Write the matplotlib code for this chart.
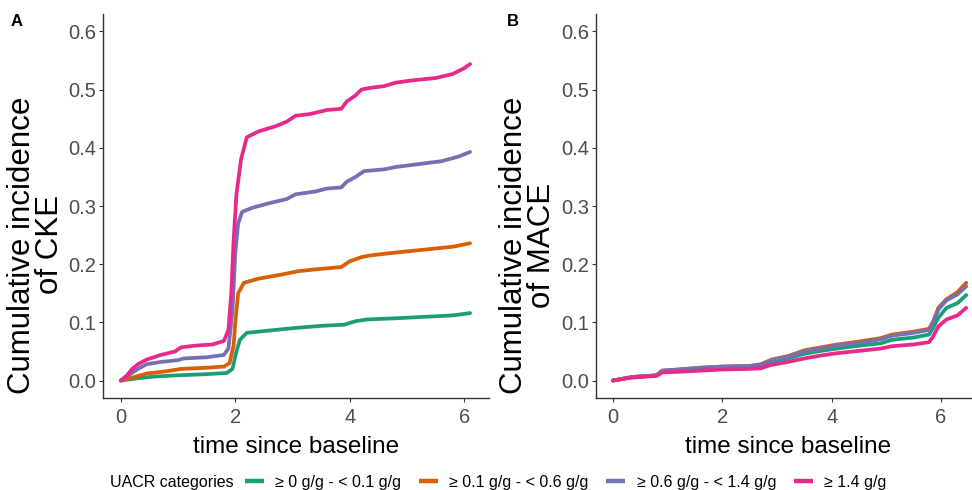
import matplotlib
matplotlib.use("Agg")
import matplotlib.pyplot as plt
from matplotlib.lines import Line2D

plt.rcParams['font.family'] = ['Liberation Sans', 'DejaVu Sans']

# colours (Dark2) and legend labels
colores = ['#1B9E77', '#D95F02', '#7570B3', '#E7298A']
etiquetas = ['≥ 0 g/g - < 0.1 g/g', '≥ 0.1 g/g - < 0.6 g/g',
             '≥ 0.6 g/g - < 1.4 g/g', '≥ 1.4 g/g']

# Panel A: CKE
t_cke_verde = [0, 0.3, 0.6, 1.0, 1.5, 1.85, 1.95, 2.02, 2.08, 2.2, 2.5, 3.0, 3.5, 3.9, 4.1, 4.3, 4.8, 5.4, 5.8, 6.1]
y_cke_verde = [0, 0.004, 0.007, 0.009, 0.011, 0.013, 0.02, 0.05, 0.07, 0.082, 0.085, 0.09, 0.094, 0.096, 0.102, 0.105, 0.107, 0.11, 0.112, 0.116]

t_cke_naranja = [0, 0.2, 0.45, 0.8, 1.05, 1.5, 1.8, 1.9, 1.97, 2.0, 2.05, 2.15, 2.4, 2.8, 3.1, 3.5, 3.85, 4.0, 4.2, 4.35, 4.8, 5.3, 5.8, 6.1]
y_cke_naranja = [0, 0.005, 0.012, 0.016, 0.02, 0.022, 0.024, 0.03, 0.06, 0.1, 0.15, 0.168, 0.175, 0.182, 0.188, 0.192, 0.195, 0.205, 0.212, 0.215, 0.22, 0.225, 0.23, 0.236]

t_cke_morado = [0, 0.15, 0.3, 0.45, 0.7, 1.0, 1.1, 1.5, 1.8, 1.88, 1.95, 2.0, 2.05, 2.12, 2.3, 2.6, 2.9, 3.05, 3.4, 3.6, 3.85, 3.95, 4.1, 4.25, 4.6, 4.8, 5.2, 5.6, 5.9, 6.1]
y_cke_morado = [0, 0.01, 0.02, 0.028, 0.032, 0.035, 0.038, 0.04, 0.044, 0.055, 0.12, 0.22, 0.27, 0.29, 0.297, 0.305, 0.312, 0.32, 0.325, 0.33, 0.332, 0.342, 0.35, 0.36, 0.363, 0.367, 0.372, 0.377, 0.385, 0.393]

t_cke_rosa = [0, 0.1, 0.2, 0.3, 0.45, 0.7, 0.95, 1.05, 1.3, 1.6, 1.8, 1.88, 1.93, 1.97, 2.02, 2.1, 2.2, 2.4, 2.7, 2.9, 3.05, 3.3, 3.6, 3.85, 3.95, 4.1, 4.2, 4.35, 4.6, 4.8, 5.1, 5.5, 5.8, 6.0, 6.1]
y_cke_rosa = [0, 0.008, 0.02, 0.028, 0.036, 0.044, 0.05, 0.057, 0.06, 0.062, 0.068, 0.087, 0.15, 0.24, 0.32, 0.38, 0.418, 0.428, 0.437, 0.445, 0.455, 0.458, 0.465, 0.467, 0.48, 0.49, 0.5, 0.503, 0.506, 0.512, 0.516, 0.52, 0.527, 0.537, 0.544]

# Panel B: MACE
t_mace = [0, 0.35, 0.8, 0.9, 1.2, 1.6, 2.0, 2.5, 2.7, 2.9, 3.2, 3.5, 3.8, 4.1, 4.5, 4.9, 5.1, 5.5, 5.78, 5.85, 5.95, 6.1, 6.3, 6.46]
y_mace_verde = [0, 0.006, 0.009, 0.016, 0.018, 0.02, 0.022, 0.023, 0.025, 0.032, 0.038, 0.046, 0.051, 0.055, 0.06, 0.064, 0.07, 0.074, 0.079, 0.09, 0.108, 0.125, 0.133, 0.147]
y_mace_naranja = [0, 0.006, 0.009, 0.017, 0.019, 0.022, 0.024, 0.025, 0.028, 0.036, 0.042, 0.052, 0.057, 0.062, 0.067, 0.073, 0.079, 0.084, 0.089, 0.1, 0.125, 0.14, 0.152, 0.168]
y_mace_morado = [0, 0.006, 0.009, 0.017, 0.019, 0.022, 0.024, 0.025, 0.027, 0.035, 0.041, 0.05, 0.055, 0.06, 0.065, 0.071, 0.077, 0.082, 0.087, 0.1, 0.122, 0.138, 0.148, 0.162]
y_mace_rosa = [0, 0.005, 0.008, 0.014, 0.015, 0.017, 0.019, 0.02, 0.021, 0.027, 0.032, 0.038, 0.043, 0.047, 0.051, 0.055, 0.059, 0.062, 0.066, 0.075, 0.093, 0.105, 0.112, 0.125]

yticks = [0.0, 0.1, 0.2, 0.3, 0.4, 0.5, 0.6]
xticks = [0, 2, 4, 6]

W, H = 972, 490
fig = plt.figure(figsize=(W / 100, H / 100), dpi=100)

# axes positions in pixels: left, bottom, right, top
ax_a = fig.add_axes([103 / W, 1 - 398 / H, (489 - 103) / W, (398 - 14) / H])
ax_b = fig.add_axes([596 / W, 1 - 398 / H, (981 - 596) / W, (398 - 14) / H])

curvas_a = [(t_cke_verde, y_cke_verde), (t_cke_naranja, y_cke_naranja),
            (t_cke_morado, y_cke_morado), (t_cke_rosa, y_cke_rosa)]
curvas_b = [(t_mace, y_mace_verde), (t_mace, y_mace_naranja),
            (t_mace, y_mace_morado), (t_mace, y_mace_rosa)]

for ax, curvas in [(ax_a, curvas_a), (ax_b, curvas_b)]:
    for (t, y), c in zip(curvas, colores):
        ax.plot(t, y, color=c, lw=2.7, solid_capstyle='round', solid_joinstyle='round')
    ax.set_ylim(-0.03, 0.63)
    ax.set_yticks(yticks)
    ax.set_yticklabels(['%.1f' % v for v in yticks])
    ax.set_xticks(xticks)
    for s in ['top', 'right']:
        ax.spines[s].set_visible(False)
    for s in ['left', 'bottom']:
        ax.spines[s].set_color('#333333')
        ax.spines[s].set_linewidth(1.0)
    ax.tick_params(axis='both', length=3, width=0.8, color='#333333',
                   labelsize=14.5, labelcolor='#4D4D4D')
    ax.tick_params(axis='x', pad=4)
    ax.tick_params(axis='y', pad=2)
    ax.set_xlabel('time since baseline', fontsize=17.5, labelpad=7)

ax_a.set_xlim(-0.31, 6.43)
ax_b.set_xlim(-0.31, 6.73)

# y labels centred on the figure height
fig.text(36 / W, 0.5, 'Cumulative incidence\nof CKE', rotation=90, ha='center',
         va='center', fontsize=22.5, linespacing=0.9, multialignment='center')
fig.text(528 / W, 0.5, 'Cumulative incidence\nof MACE', rotation=90, ha='center',
         va='center', fontsize=22.5, linespacing=0.9, multialignment='center')

# panel letters
fig.text(11 / W, 1 - 22 / H, 'A', fontsize=12, fontweight='bold', va='center')
fig.text(507 / W, 1 - 22 / H, 'B', fontsize=12, fontweight='bold', va='center')

# legend at the bottom
fig.text(110 / W, 1 - 482 / H, 'UACR categories', fontsize=11.5, ha='left', va='center')
handles = [Line2D([0], [0], color=c, lw=3.2, solid_capstyle='butt') for c in colores]
fig.legend(handles, etiquetas, ncol=4, loc='center left',
           bbox_to_anchor=(245 / W, 1 - 482 / H), frameon=False, fontsize=11.5,
           handlelength=1.2, handletextpad=0.7, columnspacing=1.1,
           borderpad=0, borderaxespad=0)

fig.savefig('out.png', dpi=100)
